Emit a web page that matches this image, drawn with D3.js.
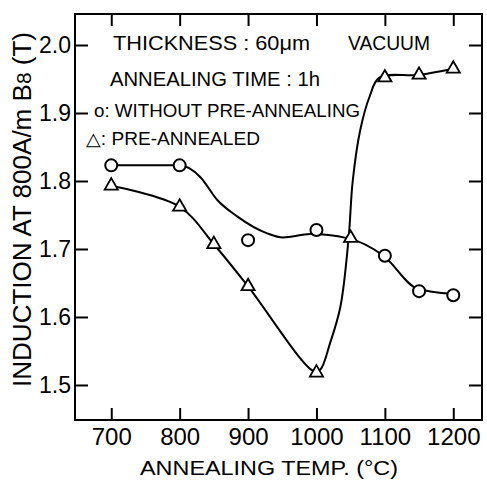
<!DOCTYPE html>
<html><head><meta charset="utf-8">
<script src="https://cdn.jsdelivr.net/npm/d3@7"></script>
<style>
html,body{margin:0;padding:0;background:#fff;}
svg{display:block;font-family:"Liberation Sans",Arial,sans-serif;}
</style></head>
<body>
<svg id="c" width="487" height="481"></svg>
<script>
// Data
const xTicks = [700, 800, 900, 1000, 1100, 1200];
const yTicks = [1.5, 1.6, 1.7, 1.8, 1.9, 2.0];

const withoutTemp  = [700, 800, 900, 1000, 1100, 1150, 1200];
const withoutBs    = [1.823, 1.823, 1.713, 1.728, 1.690, 1.638, 1.632];

const preTemp = [700, 800, 850, 900, 1000, 1050, 1100, 1150, 1200];
const preBs   = [1.793, 1.762, 1.707, 1.645, 1.518, 1.716, 1.952, 1.956, 1.965];

// hand-drawn fitted curves (knots)
const withoutCurveT = [700, 800, 830, 855, 884, 928, 951, 991, 1045, 1098, 1147, 1199];
const withoutCurveB = [1.823, 1.823, 1.806, 1.772, 1.748, 1.723, 1.717, 1.722, 1.716, 1.690, 1.642, 1.634];

const preCurveT = [700, 800, 850, 900, 995, 1005, 1020, 1035, 1047, 1053, 1064, 1078, 1092, 1150, 1200];
const preCurveB = [1.793, 1.762, 1.707, 1.645, 1.521, 1.522, 1.562, 1.615, 1.716, 1.800, 1.875, 1.925, 1.952, 1.956, 1.965];

const svg = d3.select("#c");
const L = 75, R = 482, T = 14, B = 420;
const x = d3.scaleLinear().domain([647, 1242]).range([L, R]);
const y = d3.scaleLinear().domain([1.4485, 2.0456]).range([B, T]);

// frame
svg.append("rect").attr("x", L).attr("y", T).attr("width", R - L).attr("height", B - T)
  .attr("fill", "none").attr("stroke", "#000").attr("stroke-width", 2);

function styleAxis(g) {
  g.select(".domain").remove();
  g.selectAll(".tick line").attr("stroke", "#000").attr("stroke-width", 2);
  g.selectAll(".tick text").attr("fill", "#000").attr("font-family", "Liberation Sans, Arial, sans-serif");
}
svg.append("g").attr("transform", `translate(0,${B})`)
  .call(d3.axisBottom(x).tickValues(xTicks).tickSize(-12).tickPadding(8).tickFormat(d3.format("d")))
  .call(styleAxis).selectAll("text").attr("font-size", 24);
svg.append("g").attr("transform", `translate(0,${T})`)
  .call(d3.axisTop(x).tickValues(xTicks).tickSize(-12).tickFormat(""))
  .call(styleAxis);
svg.append("g").attr("transform", `translate(${L},0)`)
  .call(d3.axisLeft(y).tickValues(yTicks).tickSize(-13).tickPadding(4).tickFormat(d3.format(".1f")))
  .call(styleAxis).selectAll("text").attr("font-size", 23);
svg.append("g").attr("transform", `translate(${R},0)`)
  .call(d3.axisRight(y).tickValues(yTicks).tickSize(-13).tickFormat(""))
  .call(styleAxis);

// curves
const line = d3.line().x(d => x(d[0])).y(d => y(d[1])).curve(d3.curveMonotoneX);
const lineC = d3.line().x(d => x(d[0])).y(d => y(d[1])).curve(d3.curveCatmullRom.alpha(0.5));
svg.append("path").datum(withoutCurveT.map((t, i) => [t, withoutCurveB[i]]))
  .attr("d", line).attr("fill", "none").attr("stroke", "#000").attr("stroke-width", 2);
svg.append("path").datum(preCurveT.map((t, i) => [t, preCurveB[i]]))
  .attr("d", lineC).attr("fill", "none").attr("stroke", "#000").attr("stroke-width", 2);

// markers
svg.append("g").selectAll("circle").data(withoutTemp.map((t, i) => [t, withoutBs[i]]))
  .join("circle").attr("cx", d => x(d[0])).attr("cy", d => y(d[1])).attr("r", 6)
  .attr("fill", "#fff").attr("stroke", "#000").attr("stroke-width", 2);
const tri = d3.symbol().type(d3.symbolTriangle).size(75);
svg.append("g").selectAll("path").data(preTemp.map((t, i) => [t, preBs[i]]))
  .join("path").attr("d", tri).attr("transform", d => `translate(${x(d[0])},${y(d[1])})`)
  .attr("fill", "#fff").attr("stroke", "#000").attr("stroke-width", 1.8);

// annotation texts
const ann = svg.append("g").attr("fill", "#000");
function label(xp, yp, fs, len, txt) {
  ann.append("text").attr("x", xp).attr("y", yp).attr("font-size", fs)
    .attr("textLength", len).attr("lengthAdjust", "spacingAndGlyphs").text(txt);
}
label(113, 50, 20, 197, "THICKNESS : 60μm");
label(348, 50, 20, 82, "VACUUM");
label(110, 86, 20, 210, "ANNEALING TIME : 1h");
label(94, 117, 18, 266, "o: WITHOUT PRE-ANNEALING");
label(86, 145, 18, 174, "△: PRE-ANNEALED");

// axis titles
svg.append("text").attr("x", 140).attr("y", 475).attr("font-size", 21)
  .attr("textLength", 258).attr("lengthAdjust", "spacingAndGlyphs").text("ANNEALING TEMP. (°C)");
const yt = svg.append("text").attr("transform", "translate(31,387) rotate(-90)")
  .attr("font-size", 25).attr("textLength", 355).attr("lengthAdjust", "spacingAndGlyphs");
yt.append("tspan").text("INDUCTION AT 800A/m  B");
yt.append("tspan").attr("font-size", 20).text("8");
yt.append("tspan").text(" (T)");
</script>
</body></html>
